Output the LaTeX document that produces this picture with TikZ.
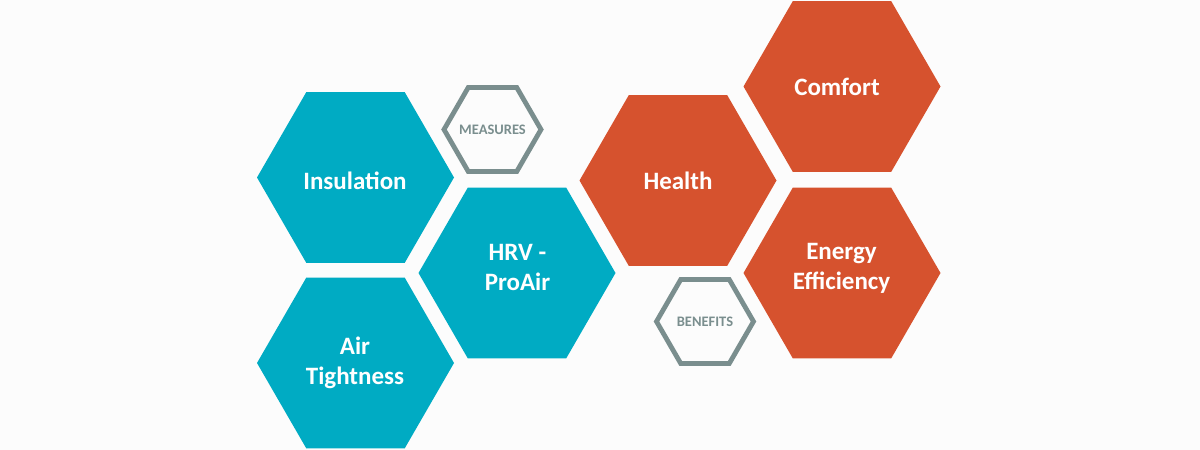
\documentclass[tikz,border=0pt]{standalone}
\usepackage{fontspec}
\setmainfont{Carlito}
\usetikzlibrary{shapes.geometric}
\definecolor{tealhex}{HTML}{00ABC3}
\definecolor{orangehex}{HTML}{D6522E}
\definecolor{greyhex}{HTML}{7A8E8E}
\definecolor{pagebg}{HTML}{FCFCFC}
\begin{document}
\begin{tikzpicture}[x=1pt, y=1pt,
    bighex/.style={regular polygon, regular polygon sides=6, minimum size=197pt, inner sep=0pt, outer sep=0pt},
    smallhex/.style={regular polygon, regular polygon sides=6, minimum size=97pt, inner sep=0pt, outer sep=0pt, draw=greyhex, line width=4.8pt},
    bigtext/.style={font=\fontsize{25}{30}\selectfont\bfseries, text=white, align=center},
    smalltext/.style={font=\fontsize{14.5}{16}\selectfont\bfseries, text=greyhex}]
    \fill[pagebg] (0,0) rectangle (1200,450);
    \useasboundingbox (0,0) rectangle (1200,450);
    % measures
    \node[bighex, fill=tealhex] (insulation) at (355.5,272.5) {};
    \node[bighex, fill=tealhex] (tightness) at (355.5,87) {};
    \node[bighex, fill=tealhex] (hrv) at (517,177) {};
    \node[smallhex] (measures) at (492.5,320.5) {};
    % benefits
    \node[bighex, fill=orangehex] (health) at (678,269.5) {};
    \node[bighex, fill=orangehex] (comfort) at (842,363.5) {};
    \node[bighex, fill=orangehex] (energy) at (842,177) {};
    \node[smallhex] (benefits) at (705,128.5) {};
    % labels
    \node[bigtext] (insulationtext) at (355,269) {Insulation};
    \node[bigtext] (tightnesstext) at (355,87) {Air\\Tightness};
    \node[bigtext] (hrvtext) at (517.5,183) {HRV -\\ProAir};
    \node[bigtext] (healthtext) at (678,269) {Health};
    \node[bigtext] (comforttext) at (837,363) {Comfort};
    \node[bigtext] (energytext) at (841.5,182) {Energy\\Efficiency};
    \node[smalltext] (measurestext) at (492.5,320) {MEASURES};
    \node[smalltext] (benefitstext) at (705,128) {BENEFITS};
\end{tikzpicture}
\end{document}
